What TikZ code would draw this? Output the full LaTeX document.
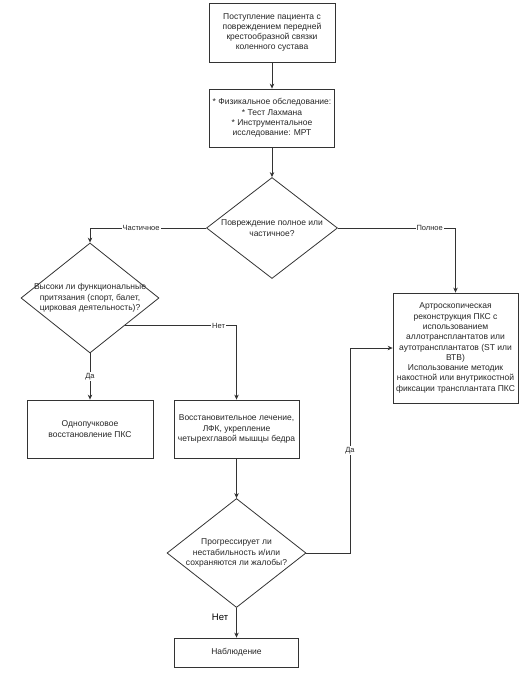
\documentclass[tikz,border=0pt]{standalone}
\usepackage{fontspec}
\setmainfont{Liberation Sans}
\usetikzlibrary{arrows.meta,shapes.geometric,calc}
\begin{document}
\begin{tikzpicture}[x=1pt,y=-1pt,
  box/.style={draw=black!80, line width=0.8pt, fill=white, inner sep=0pt, text=black!85,
    font=\fontsize{8.5}{10.3}\selectfont, align=center},
  dia/.style={draw=black!80, line width=0.8pt, diamond, aspect=1, inner sep=0pt},
  dtext/.style={text=black!85, font=\fontsize{8.5}{10.3}\selectfont, align=center, inner sep=0pt},
  conn/.style={draw=black!80, line width=0.8pt, -{Stealth[length=5pt,width=4.5pt]}},
  lbl/.style={fill=white, text=black!85, font=\fontsize{7.5}{9}\selectfont, inner sep=1pt}
]
\useasboundingbox (0,0) rectangle (524,677);

\node[box, minimum width=126pt, minimum height=59pt] (b1) at (272,32.5)
  {Поступление пациента с\\повреждением передней\\крестообразной связки\\коленного сустава};
\node[box, minimum width=125pt, minimum height=58pt] (b2) at (272,118)
  {* Физикальное обследование:\\* Тест Лахмана\\* Инструментальное\\исследование: МРТ};

\node[dia, minimum width=131pt, minimum height=101pt] (d1) at (272,228) {};
\node[dtext] (d1t) at (d1.center) {Повреждение полное или\\частичное?};

\node[box, minimum width=125pt, minimum height=110pt] (b3) at (455.5,348)
  {Артроскопическая\\реконструкция ПКС с\\использованием\\аллотрансплантатов или\\аутотрансплантатов (ST или\\ВТВ)\\Использование методик\\накостной или внутрикостной\\фиксации трансплантата ПКС};

\node[dia, minimum width=138pt, minimum height=110pt] (d2) at (90,298) {};
\node[dtext] (d2t) at (d2.center) {Высоки ли функциональные\\притязания (спорт, балет,\\цирковая деятельность)?};

\node[box, minimum width=126pt, minimum height=58pt] (b4) at (90,429)
  {Однопучковое\\восстановление ПКС};
\node[box, minimum width=125pt, minimum height=58pt] (b5) at (236.5,429)
  {Восстановительное лечение,\\ЛФК, укрепление\\четырехглавой мышцы бедра};

\node[dia, minimum width=139pt, minimum height=109pt] (d3) at (236.5,553) {};
\node[dtext] (d3t) at (d3.center) {Прогрессирует ли\\нестабильность и/или\\сохраняются ли жалобы?};

\node[box, minimum width=124pt, minimum height=29pt] (b6) at (236.5,652.5) {Наблюдение};

\coordinate (n1) at ($(d2.east)!0.5!(d2.south)$);
\coordinate (c1) at (350,553);
\coordinate (c2) at (350,348);

\draw[conn] (b1) -- (b2);
\draw[conn] (b2) -- (d1);
\draw[conn] (d1.east) -| node[lbl, pos=0.39] {Полное} (b3.north);
\draw[conn] (d1.west) -| node[lbl, pos=0.28] {Частичное} (d2.north);
\draw[conn] (n1) -| node[lbl, pos=0.42] {Нет} (b5.north);
\draw[conn] (d2.south) -- node[lbl] {Да} (b4.north);
\draw[conn] (b5) -- (d3);
\draw[conn] (d3.east) -- (c1) -- node[lbl] {Да} (c2) -- (b3.west);
\draw[conn] (d3.south) -- node[pos=0.3, anchor=east, xshift=-8pt, text=black, font=\fontsize{9.5}{11}\selectfont, inner sep=0pt] {Нет} (b6.north);
\end{tikzpicture}
\end{document}
